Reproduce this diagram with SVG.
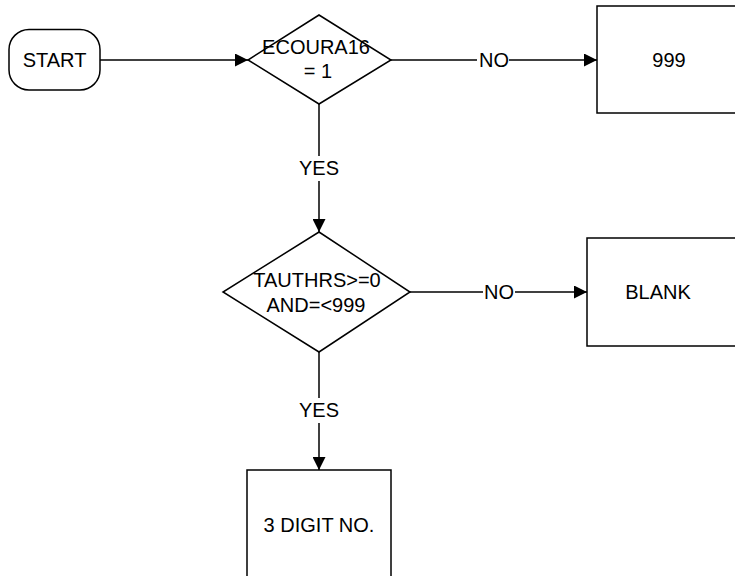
<svg xmlns="http://www.w3.org/2000/svg" width="735" height="576" viewBox="0 0 735 576">
<style>
.s{fill:#fff;stroke:#000;stroke-width:1.5}
.c{fill:none;stroke:#000;stroke-width:1.5}
text{font-family:"Liberation Sans",Arial,sans-serif;font-size:20px;fill:#000;text-anchor:middle}
</style>
<defs>
<marker id="ah" markerWidth="13" markerHeight="13" refX="13" refY="6.5" orient="auto" markerUnits="userSpaceOnUse">
<path d="M0,0 L13,6.5 L0,13 Z" fill="#000"/>
</marker>
</defs>
<rect width="735" height="576" fill="#fff"/>
<g id="connectors">
<line class="c" x1="100" y1="60" x2="248" y2="60" marker-end="url(#ah)"/>
<line class="c" x1="391" y1="60" x2="477" y2="60"/>
<line class="c" x1="509" y1="60" x2="597" y2="60" marker-end="url(#ah)"/>
<text x="494" y="67">NO</text>
<line class="c" x1="319" y1="104" x2="319" y2="156"/>
<line class="c" x1="319" y1="181" x2="319" y2="232" marker-end="url(#ah)"/>
<text x="319" y="175">YES</text>
<line class="c" x1="410" y1="292" x2="483" y2="292"/>
<line class="c" x1="515" y1="292" x2="587" y2="292" marker-end="url(#ah)"/>
<text x="499" y="299">NO</text>
<line class="c" x1="319" y1="352" x2="319" y2="398"/>
<line class="c" x1="319" y1="423" x2="319" y2="470" marker-end="url(#ah)"/>
<text x="319" y="417">YES</text>
</g>
<g id="start">
<rect class="s" x="9" y="29.5" width="91" height="60.5" rx="20" ry="20"/>
<text x="54.5" y="67">START</text>
</g>
<g id="d1">
<polygon class="s" points="319,15 391,60 319,104 248,60"/>
<text x="316" y="54">ECOURA16</text>
<text x="318" y="78">= 1</text>
</g>
<g id="n999">
<rect class="s" x="597" y="6" width="148" height="107"/>
<text x="669" y="67">999</text>
</g>
<g id="d2">
<polygon class="s" points="319,232 410,292 319,352 223,292"/>
<text x="317" y="287">TAUTHRS&gt;=0</text>
<text x="316" y="312">AND=&lt;999</text>
</g>
<g id="blank">
<rect class="s" x="587" y="238" width="158" height="108"/>
<text x="658" y="299">BLANK</text>
</g>
<g id="digit">
<rect class="s" x="247" y="470" width="144" height="120"/>
<text x="319" y="532">3 DIGIT NO.</text>
</g>
</svg>
